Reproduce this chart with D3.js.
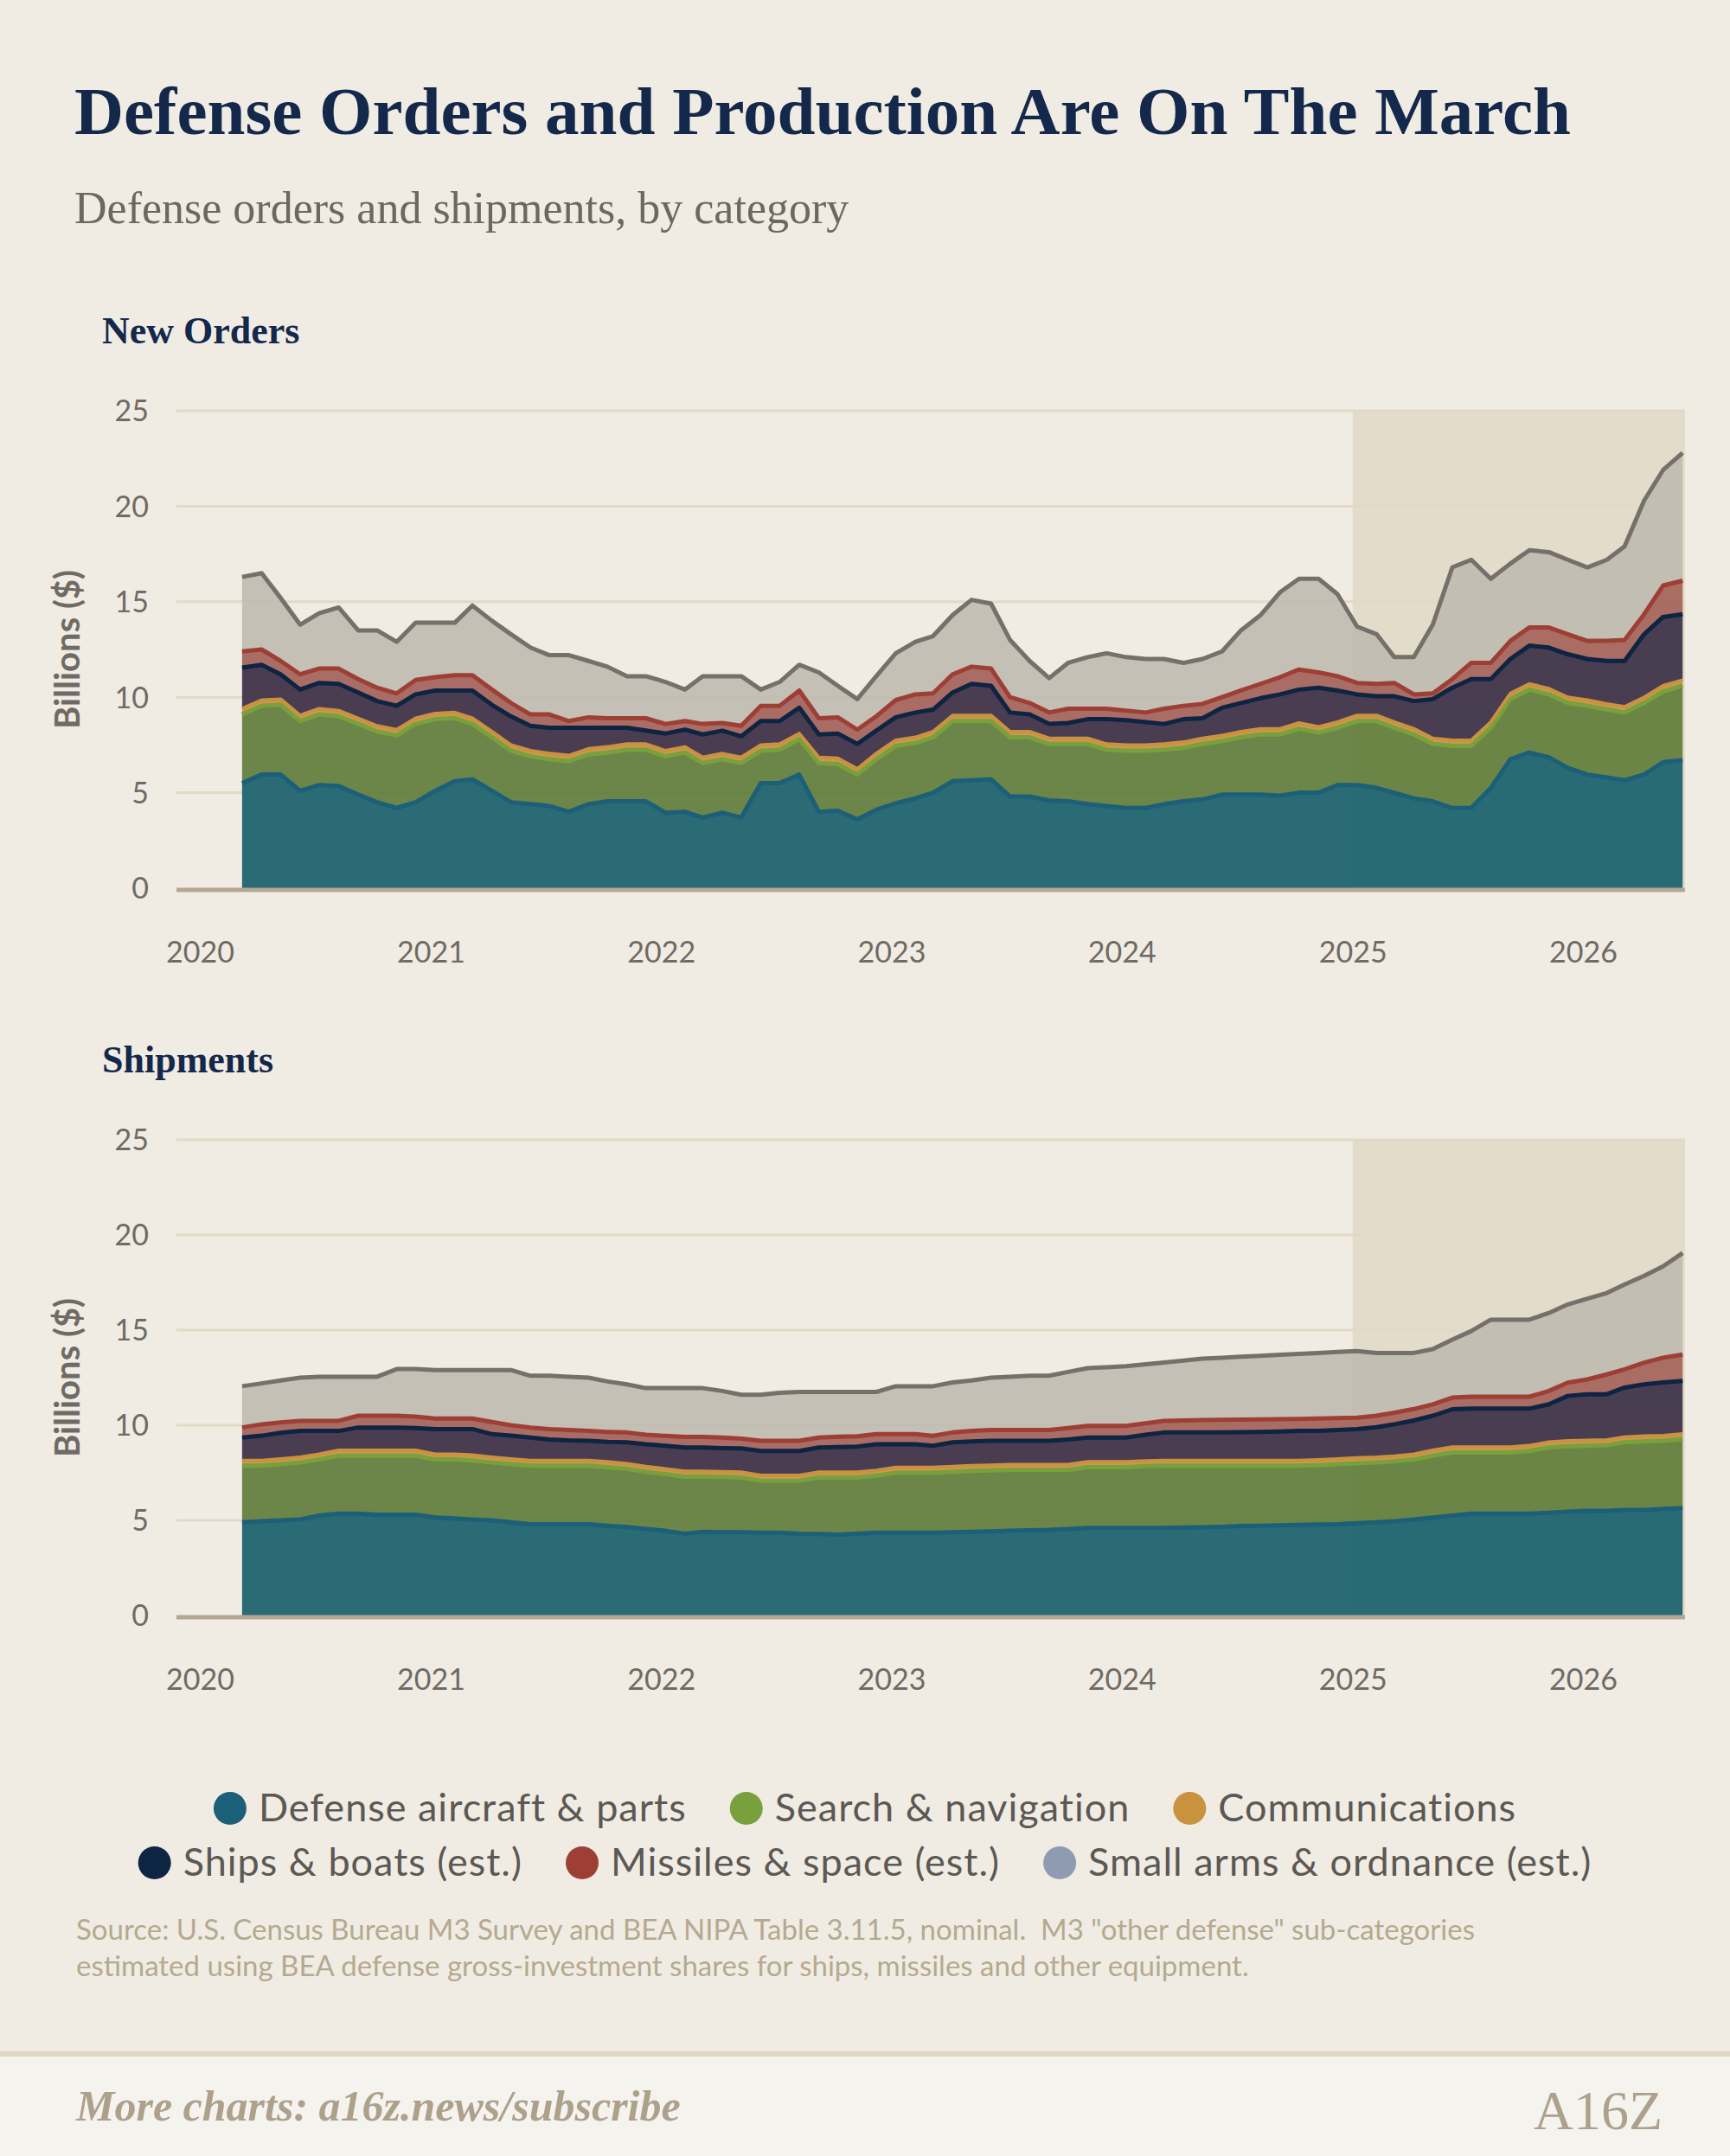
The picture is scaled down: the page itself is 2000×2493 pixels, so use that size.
<!DOCTYPE html>
<html><head><meta charset="utf-8">
<script src="https://cdn.jsdelivr.net/npm/d3@7"></script>
<style>body{margin:0;background:#f0ece4;}</style>
</head><body>
<svg id="c" width="2000" height="2493"></svg>
<script>
const startMonth = [2020, 2]; // March 2020, monthly through June 2026
const yearTicks = ["2020","2021","2022","2023","2024","2025","2026"];
const yTicks = [0,5,10,15,20,25];
const seriesNames = ["Defense aircraft & parts","Search & navigation","Communications","Ships & boats (est.)","Missiles & space (est.)","Small arms & ordnance (est.)"];

// New orders: levels (billions $)
const ordersAircraft = [5.5,5.95,5.95,5.1,5.4,5.35,4.9,4.5,4.2,4.5,5.1,5.6,5.7,5.1,4.5,4.4,4.3,4.0,4.4,4.55,4.55,4.55,3.95,4.0,3.7,3.95,3.7,5.5,
 5.5,5.95,4.0,4.05,3.6,4.1,4.45,4.7,5.0,5.6,5.65,5.7,4.8,4.8,4.6,4.55,4.4,4.3,4.2,4.2,4.4,4.55,4.65,4.9,4.9,4.9,4.85,
 5.0,5.0,5.4,5.4,5.25,5.0,4.7,4.55,4.2,4.2,5.25,6.75,7.1,6.85,6.3,5.95,5.8,5.65,5.95,6.6,6.7];
const ordersSearchTop = [9.1,9.55,9.6,8.75,9.1,9.0,8.6,8.2,8.0,8.6,8.85,8.9,8.6,7.9,7.2,6.9,6.75,6.65,7.0,7.1,7.25,7.25,6.9,7.1,6.55,6.75,6.55,7.2,
 7.25,7.8,6.55,6.5,5.95,6.75,7.45,7.6,7.9,8.75,8.75,8.75,7.9,7.9,7.55,7.55,7.55,7.25,7.2,7.2,7.25,7.35,7.55,7.7,7.9,8.05,8.05,
 8.35,8.15,8.4,8.75,8.75,8.4,8.05,7.55,7.45,7.45,8.4,9.9,10.4,10.15,9.7,9.55,9.35,9.2,9.7,10.3,10.6];
const ordersComms = [0.3,0.3,0.3,0.3,0.3,0.3,0.3,0.3,0.3,0.3,0.3,0.3,0.3,0.3,0.3,0.3,0.3,0.3,0.3,0.3,0.3,0.3,0.3,0.3,0.3,0.3,0.3,0.3,
 0.3,0.3,0.3,0.3,0.3,0.3,0.3,0.3,0.3,0.3,0.3,0.3,0.3,0.3,0.3,0.3,0.3,0.3,0.3,0.3,0.3,0.3,0.3,0.3,0.3,0.3,0.3,
 0.3,0.3,0.3,0.3,0.3,0.3,0.3,0.3,0.3,0.3,0.3,0.3,0.3,0.3,0.3,0.3,0.3,0.3,0.3,0.3,0.3];
const ordersShipsTop = [11.55,11.7,11.2,10.4,10.75,10.7,10.25,9.8,9.55,10.15,10.35,10.35,10.35,9.6,9.0,8.5,8.4,8.4,8.4,8.4,8.4,8.25,8.1,8.3,8.05,8.25,7.95,8.75,
 8.75,9.45,8.05,8.1,7.55,8.25,8.95,9.2,9.35,10.25,10.7,10.6,9.2,9.1,8.6,8.65,8.85,8.85,8.8,8.7,8.6,8.85,8.9,9.45,9.7,9.95,10.15,
 10.4,10.5,10.35,10.15,10.05,10.05,9.8,9.9,10.5,10.95,10.95,12.0,12.7,12.6,12.25,12.0,11.9,11.9,13.3,14.2,14.35];
const ordersMissilesTop = [12.4,12.5,11.9,11.2,11.5,11.5,10.95,10.5,10.2,10.9,11.05,11.15,11.15,10.4,9.7,9.1,9.1,8.75,8.95,8.9,8.9,8.9,8.6,8.75,8.6,8.65,8.5,9.55,
 9.55,10.35,8.9,8.95,8.3,9.0,9.85,10.15,10.2,11.2,11.6,11.5,10.0,9.7,9.2,9.4,9.4,9.4,9.3,9.2,9.4,9.55,9.65,10.0,10.35,10.7,11.05,
 11.45,11.3,11.1,10.75,10.7,10.75,10.15,10.2,10.95,11.8,11.8,12.95,13.65,13.65,13.3,12.95,12.95,13.0,14.35,15.85,16.1];
const ordersTotal = [16.3,16.5,15.2,13.8,14.4,14.7,13.5,13.5,12.9,13.9,13.9,13.9,14.8,14.0,13.3,12.6,12.2,12.2,11.9,11.6,11.1,11.1,10.8,10.4,11.1,11.1,11.1,10.4,
 10.8,11.7,11.3,10.6,9.9,11.1,12.3,12.9,13.2,14.3,15.1,14.9,13.0,11.9,11.0,11.8,12.1,12.3,12.1,12.0,12.0,11.8,12.0,12.4,13.5,14.3,15.5,
 16.2,16.2,15.4,13.7,13.3,12.1,12.1,13.8,16.8,17.2,16.2,17.0,17.7,17.6,17.2,16.8,17.2,17.9,20.3,21.9,22.8];

// Shipments
const shipAircraft = [4.9,4.95,5.0,5.05,5.25,5.35,5.35,5.3,5.3,5.3,5.15,5.1,
 5.05,5.0,4.9,4.8,4.8,4.8,4.8,4.72,4.65,4.55,4.45,4.3,
 4.4,4.38,4.37,4.35,4.35,4.3,4.28,4.25,4.3,4.35,4.35,4.35,
 4.35,4.37,4.4,4.42,4.45,4.48,4.5,4.55,4.6,4.6,4.6,4.6,
 4.6,4.62,4.64,4.66,4.7,4.72,4.74,4.76,4.78,4.8,4.85,4.9,
 4.95,5.05,5.15,5.25,5.35,5.35,5.35,5.35,5.4,5.45,5.5,5.5,5.55,5.55,5.6,5.65];
const shipSearchTop = [7.87,7.87,7.95,8.04,8.2,8.4,8.4,8.4,8.4,8.4,8.2,8.2,
 8.15,8.04,7.95,7.87,7.87,7.87,7.87,7.8,7.7,7.55,7.43,7.3,
 7.3,7.28,7.25,7.08,7.08,7.08,7.25,7.25,7.25,7.35,7.5,7.5,
 7.5,7.55,7.6,7.62,7.65,7.65,7.65,7.65,7.8,7.8,7.8,7.85,
 7.87,7.87,7.87,7.87,7.87,7.87,7.87,7.87,7.9,7.95,8.0,8.04,
 8.1,8.2,8.4,8.57,8.57,8.57,8.57,8.65,8.83,8.9,8.92,8.95,9.1,9.15,9.18,9.27];
const shipComms = [0.28,0.28,0.28,0.28,0.28,0.28,0.28,0.28,0.28,0.28,0.28,0.28,
 0.28,0.28,0.28,0.28,0.28,0.28,0.28,0.28,0.28,0.28,0.28,0.28,
 0.28,0.28,0.28,0.28,0.28,0.28,0.28,0.28,0.28,0.28,0.28,0.28,
 0.28,0.28,0.28,0.28,0.28,0.28,0.28,0.28,0.28,0.28,0.28,0.28,
 0.28,0.28,0.28,0.28,0.28,0.28,0.28,0.28,0.28,0.28,0.28,0.28,
 0.28,0.28,0.28,0.28,0.28,0.28,0.28,0.28,0.28,0.28,0.28,0.28,0.28,0.28,0.28,0.28];
const shipShipsTop = [9.35,9.45,9.6,9.7,9.7,9.7,9.88,9.88,9.88,9.85,9.8,9.8,
 9.8,9.53,9.45,9.35,9.25,9.2,9.18,9.12,9.1,9.0,8.92,8.83,
 8.83,8.8,8.78,8.65,8.65,8.65,8.83,8.85,8.88,9.0,9.0,9.0,
 8.92,9.1,9.15,9.18,9.18,9.18,9.18,9.25,9.35,9.35,9.35,9.5,
 9.62,9.62,9.62,9.63,9.64,9.65,9.67,9.7,9.7,9.75,9.8,9.9,
 10.05,10.25,10.5,10.84,10.87,10.87,10.87,10.87,11.1,11.54,11.63,11.63,11.98,12.15,12.25,12.33];
const shipMissilesTop = [9.88,10.05,10.15,10.23,10.23,10.23,10.5,10.5,10.5,10.45,10.35,10.35,
 10.35,10.17,10.0,9.88,9.8,9.75,9.7,9.65,9.62,9.5,9.44,9.39,
 9.39,9.35,9.3,9.18,9.18,9.18,9.35,9.4,9.42,9.53,9.53,9.53,
 9.44,9.62,9.7,9.75,9.75,9.75,9.75,9.85,9.97,9.97,9.97,10.1,
 10.23,10.25,10.27,10.28,10.3,10.31,10.32,10.33,10.35,10.37,10.4,10.5,
 10.66,10.85,11.1,11.45,11.5,11.5,11.5,11.5,11.8,12.24,12.41,12.67,12.94,13.29,13.55,13.72];
const shipTotal = [12.05,12.2,12.35,12.5,12.55,12.55,12.55,12.55,12.95,12.95,12.9,12.9,
 12.9,12.9,12.9,12.6,12.6,12.55,12.5,12.3,12.15,11.95,11.95,11.95,
 11.95,11.8,11.6,11.6,11.7,11.75,11.75,11.75,11.75,11.75,12.05,12.05,
 12.05,12.25,12.35,12.5,12.55,12.6,12.6,12.8,13.0,13.05,13.1,13.2,
 13.3,13.4,13.5,13.55,13.6,13.65,13.7,13.75,13.8,13.85,13.9,13.8,
 13.8,13.8,14.0,14.5,14.95,15.55,15.55,15.55,15.9,16.35,16.65,16.95,17.4,17.85,18.35,19.05];

const fills = ["#1f6470","#647f3f","#c9924a","#40344a","#a5665e","#bcb8ae"];
const strokes = ["#1c5f78","#78a03c","#c9923f","#0e2443","#9e3f36","#75716a"];
const legendFill = ["#1c5f78","#78a03c","#c9923f","#0e2443","#9e3f36","#8e9bb0"];
const keys = ["a","s","c","sh","m","sm"];

function buildRows(air, searchTop, comms, shipsTop, missTop, total){
  return air.map((v,i)=>{
    const ct = searchTop[i] + comms[i];
    return {date:new Date(startMonth[0], startMonth[1]+i, 8),
      a:v, s:searchTop[i]-v, c:comms[i], sh:shipsTop[i]-ct, m:missTop[i]-shipsTop[i], sm:total[i]-missTop[i]};
  });
}

const svg = d3.select("#c");
svg.append("rect").attr("width",2000).attr("height",2493).attr("fill","#f0ece4");

svg.append("text").attr("x",86).attr("y",155).text("Defense Orders and Production Are On The March")
  .attr("font-family","Liberation Serif, DejaVu Serif, serif").attr("font-weight","bold").attr("font-size",79).attr("fill","#13284a");
svg.append("text").attr("x",86).attr("y",258).text("Defense orders and shipments, by category")
  .attr("font-family","Liberation Serif, serif").attr("font-size",52).attr("fill","#6b6862");

const x = d3.scaleTime().domain([new Date(2020,0,1), new Date(2026,0,1)]).range([231,1830]);

function panel(title, titleY, top, bottom, rows){
  svg.append("text").attr("x",118).attr("y",titleY).text(title)
    .attr("font-family","Liberation Serif, serif").attr("font-weight","bold").attr("font-size",44).attr("fill","#13284a");
  const y = d3.scaleLinear().domain([0,25]).range([bottom, top]);
  const g = svg.append("g");
  g.append("rect").attr("x",x(new Date(2025,0,1))).attr("y",y(25)).attr("width",1948-x(new Date(2025,0,1))).attr("height",y(0)-y(25)).attr("fill","#e3dccb");
  yTicks.forEach(t=>{
    if(t>0) g.append("line").attr("x1",204).attr("x2",1948).attr("y1",y(t)).attr("y2",y(t)).attr("stroke","#e2d9c7").attr("stroke-width",3);
  });
  const ax = d3.axisLeft(y).tickValues(yTicks).tickSize(0).tickPadding(0);
  const ya = g.append("g").attr("transform","translate(172,0)").call(ax);
  ya.select(".domain").remove();
  ya.selectAll("text").attr("font-family","Lato, sans-serif").attr("font-size",34).attr("fill","#6f6a63").attr("dy","0.35em");
  g.append("text").attr("transform",`translate(92,${(top+bottom)/2}) rotate(-90)`).attr("text-anchor","middle")
    .text("Billions ($)").attr("font-family","Lato, sans-serif").attr("font-weight","bold").attr("font-size",40).attr("fill","#6f6a63");
  const xa = d3.axisBottom(x).tickValues(yearTicks.map(s=>new Date(+s,0,1))).tickFormat(d3.timeFormat("%Y")).tickSize(0).tickPadding(0);
  const xg = g.append("g").attr("transform",`translate(0,${bottom+62})`).call(xa);
  xg.select(".domain").remove();
  xg.selectAll("text").attr("font-family","Lato, sans-serif").attr("font-size",34).attr("fill","#6f6a63");

  const stack = d3.stack().keys(keys)(rows);
  const area = d3.area().x(d=>x(d.data.date)).y0(d=>y(d[0])).y1(d=>y(d[1]));
  const line = d3.line().x(d=>x(d.data.date)).y(d=>y(d[1]));
  stack.forEach((s,i)=>{
    g.append("path").datum(s).attr("d",area).attr("fill",fills[i]).attr("fill-opacity",i===5?0.85:0.95);
  });
  stack.forEach((s,i)=>{
    g.append("path").datum(s).attr("d",line).attr("fill","none").attr("stroke",strokes[i]).attr("stroke-width",i===2?4:5).attr("stroke-linejoin","round");
  });
  g.append("line").attr("x1",204).attr("x2",1948).attr("y1",y(0)+2).attr("y2",y(0)+2).attr("stroke","#b3a793").attr("stroke-width",5);
}

panel("New Orders", 397, 475, 1027, buildRows(ordersAircraft, ordersSearchTop, ordersComms, ordersShipsTop, ordersMissilesTop, ordersTotal));
panel("Shipments", 1240, 1318, 1868, buildRows(shipAircraft, shipSearchTop, shipComms, shipShipsTop, shipMissilesTop, shipTotal));

const rowsLeg = [[0,1,2],[3,4,5]];
const lg = svg.append("g");
rowsLeg.forEach((r,ri)=>{
  const rg = lg.append("g");
  let cx = 0;
  r.forEach(k=>{
    rg.append("circle").attr("cx",cx+19).attr("cy",0).attr("r",19).attr("fill",legendFill[k]);
    const t = rg.append("text").attr("x",cx+52).attr("y",15).text(seriesNames[k])
      .attr("font-family","Lato, sans-serif").attr("font-size",45).attr("letter-spacing",1).attr("fill","#5c5853");
    cx += 52 + t.node().getComputedTextLength() + 50;
  });
  cx -= 50;
  rg.attr("transform",`translate(${1000-cx/2},${ri===0?2091:2154})`);
});

svg.append("text").attr("x",88).attr("y",2243).text("Source: U.S. Census Bureau M3 Survey and BEA NIPA Table 3.11.5, nominal.  M3 \"other defense\" sub-categories")
  .attr("font-family","Lato, sans-serif").attr("font-size",33).attr("fill","#b5a98f").style("white-space","pre");
svg.append("text").attr("x",88).attr("y",2285).text("estimated using BEA defense gross-investment shares for ships, missiles and other equipment.")
  .attr("font-family","Lato, sans-serif").attr("font-size",33).attr("fill","#b5a98f");

svg.append("rect").attr("x",0).attr("y",2373).attr("width",2000).attr("height",120).attr("fill","#f5f3ee");
svg.append("rect").attr("x",0).attr("y",2372).attr("width",2000).attr("height",6).attr("fill","#e0d8c6");
svg.append("text").attr("x",88).attr("y",2452).text("More charts: a16z.news/subscribe")
  .attr("font-family","Liberation Serif, serif").attr("font-style","italic").attr("font-weight","bold").attr("font-size",50).attr("fill","#ada18c");
svg.append("text").attr("x",1922).attr("y",2462).attr("text-anchor","end").text("A16Z")
  .attr("font-family","Liberation Serif, serif").attr("font-size",64).attr("fill","#ada18c");
</script>
</body></html>
